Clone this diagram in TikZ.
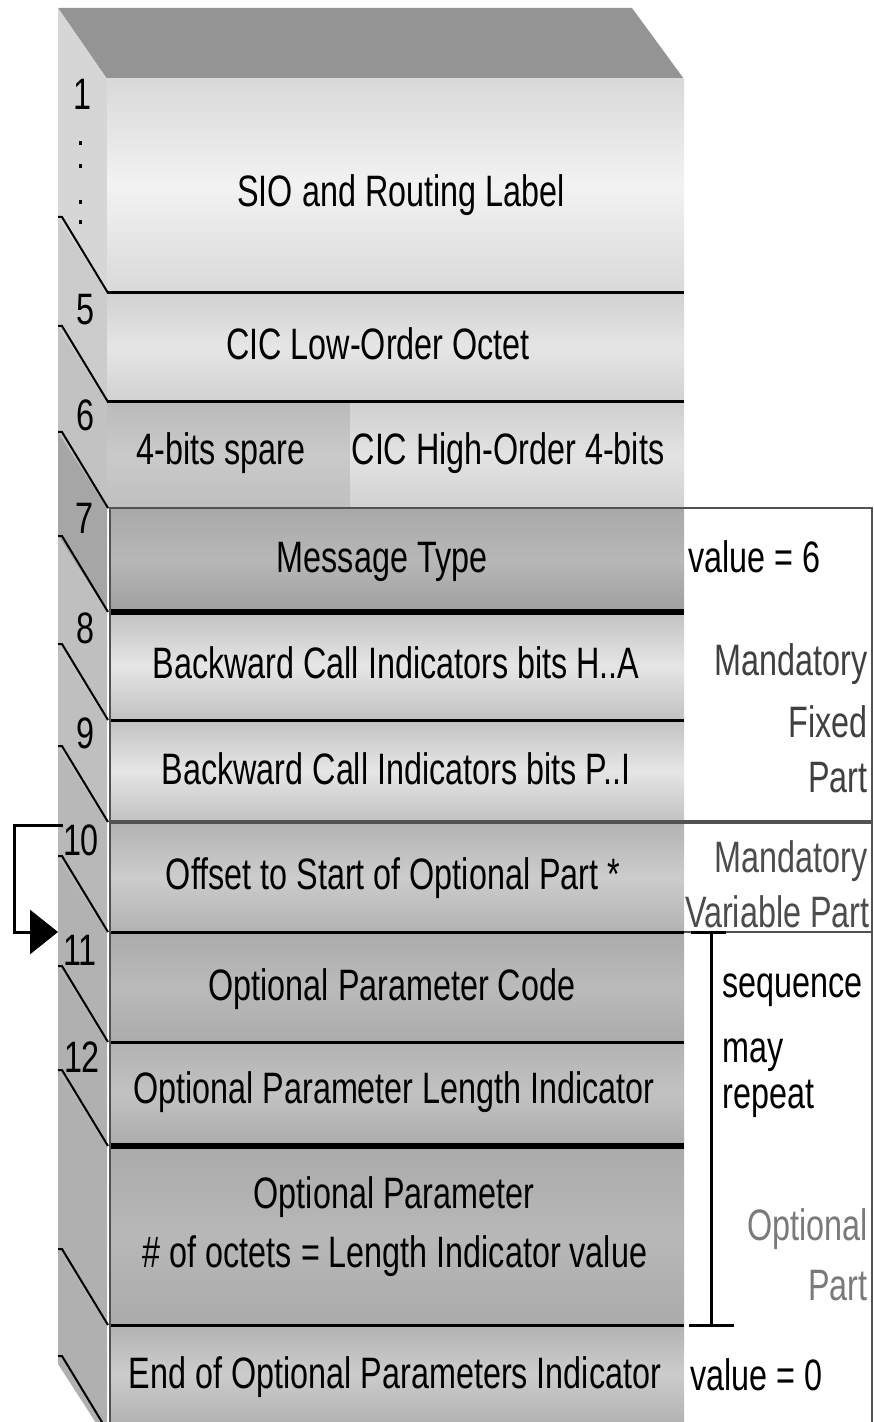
\documentclass[tikz,border=0pt]{standalone}
\usepackage{fontspec}
\setmainfont{Liberation Sans}
\usetikzlibrary{arrows.meta}
\newcommand{\nrw}[1]{\scalebox{0.735}[1]{#1}}
\tikzset{
  txt/.style={font=\fontsize{22}{26}\selectfont, inner sep=0pt, anchor=base},
  rtxt/.style={txt, anchor=base east},
  ltxt/.style={txt, anchor=base west},
  sepline/.style={line width=1.5pt, black},
  thicksep/.style={line width=3pt, black},
  diagline/.style={line width=1pt, black},
  frameline/.style={line width=1.2pt, black!68},
  bracketline/.style={line width=1.5pt, black},
  rowfill/.style n args={3}{top color=#1, bottom color=#3, middle color=#2},
}
\begin{document}
\begin{tikzpicture}[x=0.5pt, y=-0.5pt]
\useasboundingbox (0,0) rectangle (873,1422);
\clip (0,0) rectangle (873,1422);
% top face
\fill[black!42] (58,8) -- (632,8) -- (684,79) -- (107,79) -- cycle;
% side face bands
\fill[black!16] (58,8) -- (107,79) -- (107,293) -- (58,217) -- cycle;
\foreach \a/\b/\c in {293/402/black!20, 402/508/black!24, 508/612/black!35,
  612/720/black!25, 720/822/black!25, 822/932/black!28, 932/1042/black!30,
  1042/1146/black!31, 1146/1325/black!31, 1325/1440/black!31}
  \fill[\c] (58,\a-76) -- (107,\a) -- (107,\b) -- (58,\b-76) -- cycle;
% front face rows
\shade[rowfill={black!15}{black!5}{black!15}] (107,79) rectangle (684,293);
\shade[rowfill={black!18}{black!10}{black!18}] (107,293) rectangle (684,402);
\shade[rowfill={black!27}{black!21}{black!25}] (107,402) rectangle (350,508);
\shade[rowfill={black!19}{black!11}{black!18}] (350,402) rectangle (684,508);
\shade[rowfill={black!34}{black!28}{black!38}] (110,508) rectangle (684,612);
\shade[rowfill={black!24}{black!10}{black!24}] (110,612) rectangle (684,720);
\shade[rowfill={black!24}{black!10}{black!24}] (110,720) rectangle (684,822);
\shade[rowfill={black!30}{black!20}{black!30}] (110,822) rectangle (684,932);
\shade[rowfill={black!33}{black!27}{black!33}] (110,932) rectangle (684,1042);
\shade[rowfill={black!30}{black!24}{black!33}] (110,1042) rectangle (684,1146);
\shade[rowfill={black!33}{black!28}{black!33}] (110,1146) rectangle (684,1325);
\shade[rowfill={black!30}{black!20}{black!30}] (110,1325) rectangle (684,1422);
% side diagonals
\foreach \b in {293,402,508,612,720,822,932,1042,1146,1325,1432}
  \draw[diagline] (58,\b-76) -- (62,\b-76) -- (108,\b);
% dots under 1
\foreach \d in {143,166,202,222}
  \fill (78.5,\d-1.5) rectangle ++(3.5,3.5);
% separators
\draw[sepline] (107,293) -- (684,293);
\draw[sepline] (107,402) -- (684,402);
\draw[thicksep] (110,612) -- (684,612);
\draw[sepline] (110,720) -- (684,720);
\draw[sepline] (110,932) -- (684,932);
\draw[sepline] (110,1042) -- (684,1042);
\draw[thicksep] (110,1146) -- (684,1146);
\draw[sepline] (110,1325) -- (684,1325);
% frame
\draw[frameline] (110,1440) -- (110,508) -- (872,508) -- (872,1440);
\draw[frameline, line width=1.8pt] (110,822) -- (872,822);
\draw[frameline, line width=0.8pt] (684,932) -- (872,932);
% bracket
\coordinate (bt) at (711,932);
\coordinate (bb) at (711,1325);
\draw[bracketline] (bt) -- (bb);
\draw[bracketline] (691,932) -- (726,932);
\draw[bracketline] (689,1325) -- (734,1325);
% octet numbers
\node[txt] (n1) at (82,110) {\nrw{1}};
\node[txt] (n5) at (85,325) {\nrw{5}};
\node[txt] (n6) at (85,430) {\nrw{6}};
\node[txt] (n7) at (84,533) {\nrw{7}};
\node[txt] (n8) at (85,643) {\nrw{8}};
\node[txt] (n9) at (85,748) {\nrw{9}};
\node[txt] (n10) at (81,855) {\nrw{10}};
\node[txt] (n11) at (80,965) {\nrw{11}};
\node[txt] (n12) at (82,1072) {\nrw{12}};
% field texts
\node[txt] (t1) at (401,207) {\nrw{SIO and Routing Label}};
\node[txt] (t5) at (378,360) {\nrw{CIC Low-Order Octet}};
\node[txt] (t6a) at (221,465) {\nrw{4-bits spare}};
\node[txt] (t6b) at (508,465) {\nrw{CIC High-Order 4-bits}};
\node[txt] (t7) at (382,572) {\nrw{Message Type}};
\node[txt] (t8) at (396,678) {\nrw{Backward Call Indicators bits H..A}};
\node[txt] (t9) at (396,784) {\nrw{Backward Call Indicators bits P..I}};
\node[txt] (t10) at (393,889) {\nrw{Offset to Start of Optional Part *}};
\node[txt] (t11) at (392,1000) {\nrw{Optional Parameter Code}};
\node[txt] (t12) at (394,1103) {\nrw{Optional Parameter Length Indicator}};
\node[txt] (t13a) at (394,1208) {\nrw{Optional Parameter}};
\node[txt] (t13b) at (395,1267) {\nrw{\# of octets = Length Indicator value}};
\node[txt] (t14) at (395,1388) {\nrw{End of Optional Parameters Indicator}};
% right-hand notes
\node[ltxt] (v6) at (688,572) {\nrw{value = 6}};
\node[rtxt, text=black!75] (mf1) at (868,675) {\nrw{Mandatory}};
\node[rtxt, text=black!75] (mf2) at (868,737) {\nrw{Fixed}};
\node[rtxt, text=black!75] (mf3) at (868,792) {\nrw{Part}};
\node[rtxt, text=black!70] (mv1) at (868,872) {\nrw{Mandatory}};
\node[rtxt, text=black!70] (mv2) at (870,927) {\nrw{Variable Part}};
\node[ltxt] (sq1) at (722,997) {\nrw{sequence}};
\node[ltxt] (sq2) at (722,1062) {\nrw{may}};
\node[ltxt] (sq3) at (722,1108) {\nrw{repeat}};
\node[rtxt, text=black!52] (op1) at (868,1240) {\nrw{Optional}};
\node[rtxt, text=black!52] (op2) at (868,1300) {\nrw{Part}};
\node[ltxt] (v0) at (690,1390) {\nrw{value = 0}};
% offset pointer arrow
\coordinate (ps) at (63,825);
\coordinate (pe) at (58,932);
\draw[line width=1.5pt, -{Triangle[length=14pt,width=22pt]}] (ps) -- (14,825) |- (pe);
\end{tikzpicture}
\end{document}
